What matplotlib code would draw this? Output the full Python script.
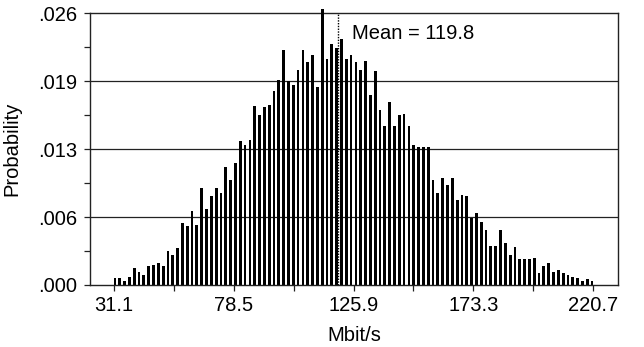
import numpy as np
import matplotlib.pyplot as plt

plt.rcParams['font.family'] = ['Liberation Sans', 'DejaVu Sans']

# histogram of throughput, 100 bins between 31.1 and 220.7 Mbit/s
x_lo, x_hi = 31.1, 220.7
probs = [
    0.0007, 0.0007, 0.0004, 0.0008, 0.0016, 0.0012, 0.0010, 0.0018, 0.0019, 0.0021,
    0.0018, 0.0033, 0.0029, 0.0035, 0.0059, 0.0056, 0.0071, 0.0057, 0.0093, 0.0073,
    0.0085, 0.0093, 0.0088, 0.0113, 0.0100, 0.0117, 0.0138, 0.0134, 0.0139, 0.0171,
    0.0163, 0.0170, 0.0172, 0.0186, 0.0196, 0.0225, 0.0195, 0.0191, 0.0206, 0.0225,
    0.0213, 0.0220, 0.0189, 0.0264, 0.0216, 0.0231, 0.0227, 0.0235, 0.0216, 0.0220,
    0.0213, 0.0206, 0.0214, 0.0182, 0.0205, 0.0167, 0.0152, 0.0175, 0.0152, 0.0163,
    0.0164, 0.0152, 0.0134, 0.0132, 0.0132, 0.0132, 0.0100, 0.0088, 0.0102, 0.0096,
    0.0102, 0.0081, 0.0086, 0.0085, 0.0064, 0.0069, 0.0060, 0.0053, 0.0037, 0.0037,
    0.0053, 0.0040, 0.0029, 0.0036, 0.0025, 0.0025, 0.0025, 0.0026, 0.0011, 0.0018,
    0.0021, 0.0012, 0.0014, 0.0011, 0.0010, 0.0008, 0.0007, 0.0004, 0.0006, 0.0004,
]
mean_val = 119.8
x_ticks = [31.1, 78.5, 125.9, 173.3, 220.7]
y_ticks = [0.0, 0.0065, 0.013, 0.0195, 0.026]
y_labels = ['.000', '.006', '.013', '.019', '.026']

bar_w = 1.1
centers = np.linspace(x_lo + bar_w / 2, x_hi - bar_w / 2, len(probs))

fig = plt.figure(figsize=(6.44, 3.47), dpi=100)
ax = fig.add_axes([0.1398, 0.1787, 0.8198, 0.783])

# gridlines behind bars
for yv in y_ticks[1:-1]:
    ax.axhline(yv, color='#222222', lw=0.9, zorder=1)

ax.bar(centers, probs, width=bar_w, color='black', zorder=2, clip_on=False)
ax.axvline(mean_val, color='black', lw=1.0, ls=(0, (1, 1)), zorder=3)
ax.text(125.3, 0.0241, 'Mean = ' + str(mean_val), fontsize=14.5,
        ha='left', va='center', zorder=4)

ax.set_xlim(21.8, 230.4)
ax.set_ylim(0, 0.026)
ax.set_xticks(x_ticks)
ax.set_xticklabels([str(t) for t in x_ticks])
ax.set_xticks([x_ticks[i] + 23.7 for i in range(4)], minor=True)
ax.set_yticks(y_ticks)
ax.set_yticklabels(y_labels)
ax.set_yticks([0.00325 + 0.0065 * i for i in range(4)], minor=True)

ax.tick_params(which='both', direction='out', length=4, width=0.9,
               color='#222222', labelsize=14.5)
ax.tick_params(axis='x', pad=4)
ax.tick_params(axis='y', pad=5)
for sp in ax.spines.values():
    sp.set_color('#222222')
    sp.set_linewidth(1.0)
    sp.set_zorder(5)
ax.spines['top'].set_zorder(1)

ax.set_xlabel('Mbit/s', fontsize=14.5, labelpad=8)
ax.set_ylabel('Probability', fontsize=14.5, labelpad=12)

fig.savefig('out.png', dpi=100)
